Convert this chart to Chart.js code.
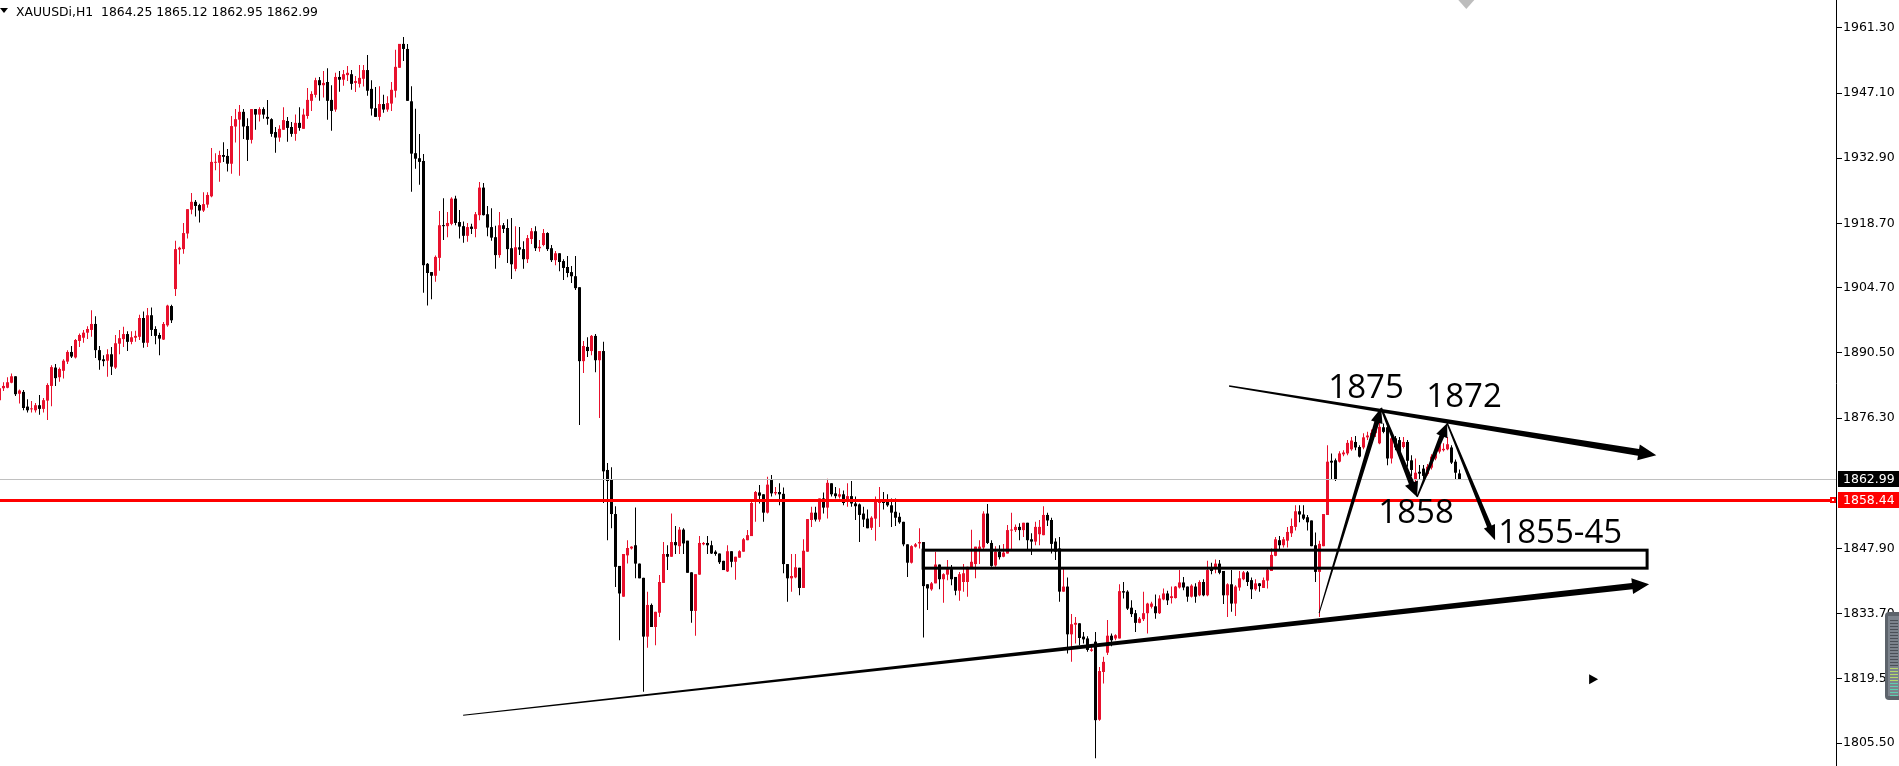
<!DOCTYPE html>
<html lang="en">
<head>
<meta charset="UTF-8" />
<title>XAUUSDi,H1</title>
<script src="https://cdn.jsdelivr.net/npm/chart.js@4"></script>
<style>
  html, body { margin: 0; padding: 0; background: #fff; overflow: hidden; }
  #wrap { position: relative; width: 1899px; height: 766px; }
</style>
</head>
<body>
<div id="wrap"><canvas id="chart"></canvas></div>
<script>
// H1 candles, oldest first
const opens = [
  1880.2,1882.8,1882.9,1884.0,1885.4,1881.6,1882.0,1878.8,1878.2,1878.0,
  1879.1,1878.3,1880.1,1883.3,1887.3,1885.2,1886.6,1888.6,1890.7,1889.5,
  1893.1,1893.8,1894.9,1895.5,1896.8,1891.1,1889.1,1888.8,1890.2,1887.3,
  1892.5,1893.5,1894.6,1892.9,1893.8,1894.0,1898.1,1892.7,1898.7,1895.7,
  1894.4,1893.4,1896.5,1900.7,1904.4,1913.0,1913.1,1916.5,1921.7,1923.4,
  1922.7,1921.5,1922.8,1924.6,1931.9,1931.9,1933.6,1933.4,1931.7,1939.8,
  1941.3,1943.0,1939.9,1936.9,1943.6,1942.4,1943.6,1941.9,1941.4,1938.6,
  1937.4,1939.1,1941.0,1939.7,1938.2,1940.6,1939.3,1942.1,1945.4,1946.7,
  1949.9,1948.8,1949.5,1945.6,1943.5,1950.6,1950.0,1951.0,1951.2,1949.3,
  1949.1,1950.2,1952.1,1948.0,1943.8,1941.9,1944.7,1943.5,1944.8,1947.6,
  1952.6,1957.8,1956.7,1945.3,1934.0,1932.9,1932.3,1909.9,1908.1,1907.3,
  1911.2,1918.3,1918.1,1918.6,1924.1,1919.0,1918.1,1916.0,1918.0,1917.5,
  1920.5,1926.5,1920.7,1917.9,1915.7,1911.8,1918.3,1917.7,1913.3,1908.8,
  1913.5,1913.1,1910.9,1915.3,1917.0,1913.3,1914.0,1916.6,1913.3,1910.7,
  1912.2,1910.5,1909.2,1908.1,1907.2,1904.8,1888.7,1891.8,1890.9,1894.2,
  1888.9,1890.9,1865.0,1863.0,1855.4,1844.1,1837.4,1846.4,1847.9,1848.6,
  1844.6,1841.5,1828.7,1835.6,1830.8,1833.9,1840.4,1846.7,1846.1,1849.3,
  1848.4,1852.0,1849.6,1842.7,1834.3,1842.2,1848.8,1849.1,1848.6,1847.2,
  1846.8,1845.2,1842.9,1847.3,1845.0,1845.9,1847.2,1849.7,1850.6,1858.1,
  1860.1,1859.7,1855.7,1862.8,1859.9,1860.2,1859.8,1844.5,1841.4,1841.6,
  1843.7,1839.3,1847.2,1854.1,1855.7,1854.2,1858.8,1856.8,1862.1,1859.9,
  1859.2,1859.7,1858.1,1859.3,1857.7,1857.5,1855.5,1854.4,1852.4,1854.4,
  1857.8,1858.4,1858.1,1857.3,1855.9,1854.8,1853.7,1848.8,1844.8,1848.3,
  1849.0,1849.3,1840.1,1839.0,1840.3,1844.4,1841.2,1842.2,1843.4,1841.7,
  1838.7,1840.6,1840.6,1843.8,1844.5,1847.8,1848.1,1855.5,1849.1,1844.2,
  1847.2,1846.1,1846.8,1851.8,1851.9,1852.6,1851.9,1853.5,1849.9,1849.4,
  1851.0,1850.8,1855.2,1854.1,1849.4,1847.9,1838.5,1839.6,1829.2,1831.3,
  1831.6,1828.7,1828.3,1825.6,1827.6,1810.6,1821.0,1825.2,1828.9,1828.3,
  1828.3,1838.6,1838.5,1835.0,1833.8,1831.7,1832.5,1833.8,1835.2,1835.3,
  1833.8,1836.8,1838.1,1837.1,1837.1,1839.4,1840.5,1839.6,1837.4,1839.6,
  1837.7,1840.6,1837.7,1843.5,1843.5,1844.6,1843.0,1837.7,1840.1,1835.9,
  1839.4,1841.2,1842.7,1841.0,1839.0,1840.3,1839.3,1840.9,1843.0,1846.3,
  1849.7,1848.6,1849.6,1851.2,1852.6,1856.0,1855.3,1854.7,1854.0,1848.6,
  1842.8,1848.4,1855.2,1867.0,1867.1,1866.8,1868.4,1868.6,1869.5,1871.1,
  1870.0,1869.9,1872.1,1871.6,1873.0,1870.8,1874.3,1874.3,1867.5,1871.9,
  1871.5,1870.0,1871.1,1867.1,1862.8,1864.6,1865.3,1864.1,1865.5,1867.5,
  1869.0,1869.3,1869.5,1869.9,1866.8,1864.25
];
const highs = [
  1883.1,1884.1,1885.2,1886.0,1885.4,1882.5,1882.4,1880.4,1880.0,1879.6,
  1881.3,1880.7,1883.9,1887.8,1888.1,1887.3,1889.1,1891.1,1892.0,1893.5,
  1894.7,1895.5,1896.3,1899.8,1898.5,1892.0,1890.0,1891.3,1891.8,1894.4,
  1895.5,1896.2,1895.2,1895.2,1895.3,1898.8,1899.5,1900.3,1900.4,1896.3,
  1894.9,1897.2,1901.0,1901.0,1914.9,1913.6,1918.8,1921.8,1925.3,1923.8,
  1923.0,1925.5,1925.5,1935.1,1934.0,1934.5,1936.4,1934.9,1942.1,1943.6,
  1944.5,1943.6,1941.6,1943.6,1943.6,1944.0,1944.0,1945.6,1941.6,1939.7,
  1940.1,1944.0,1941.9,1940.8,1942.4,1944.0,1943.7,1948.2,1947.5,1950.4,
  1950.6,1951.9,1952.5,1948.8,1951.5,1951.9,1952.1,1953.0,1952.1,1950.8,
  1953.2,1953.2,1955.4,1949.9,1948.4,1948.6,1946.7,1946.4,1949.5,1956.5,
  1957.8,1959.3,1957.8,1948.6,1943.7,1938.2,1933.8,1910.1,1908.1,1911.7,
  1921.4,1924.2,1921.2,1924.4,1924.7,1921.6,1919.1,1918.8,1918.6,1921.2,
  1927.7,1927.5,1922.5,1922.0,1918.2,1921.2,1918.8,1919.6,1919.9,1918.1,
  1917.9,1914.8,1916.2,1917.7,1918.1,1915.1,1917.5,1916.8,1914.0,1912.7,
  1912.2,1910.9,1911.6,1909.4,1911.6,1904.8,1893.1,1893.9,1894.4,1894.6,
  1890.9,1892.9,1866.5,1865.6,1857.1,1844.1,1846.7,1849.7,1848.4,1856.8,
  1844.6,1841.5,1838.5,1835.9,1834.1,1842.1,1849.3,1848.6,1855.5,1852.8,
  1852.6,1852.3,1849.6,1842.7,1842.3,1850.6,1849.3,1850.6,1849.6,1847.5,
  1846.8,1845.2,1848.6,1847.3,1846.1,1847.5,1850.2,1851.9,1858.4,1860.4,
  1861.7,1859.7,1863.5,1863.9,1861.3,1862.1,1861.2,1844.5,1846.7,1846.7,
  1843.7,1849.9,1854.3,1857.0,1857.0,1858.8,1860.1,1863.1,1862.1,1861.3,
  1861.0,1860.5,1862.1,1862.6,1859.2,1857.7,1857.0,1856.4,1854.9,1859.2,
  1861.3,1860.2,1859.7,1858.8,1858.8,1855.7,1853.7,1848.8,1848.6,1849.1,
  1852.3,1849.3,1840.1,1840.6,1847.2,1844.4,1842.5,1845.4,1844.3,1841.7,
  1842.8,1844.5,1843.9,1852.0,1848.3,1849.7,1856.0,1857.6,1849.7,1848.4,
  1848.6,1848.9,1853.0,1855.7,1853.1,1853.4,1853.5,1853.5,1851.2,1853.7,
  1854.1,1857.1,1855.7,1854.6,1850.1,1850.4,1843.7,1841.6,1833.6,1833.0,
  1831.6,1829.7,1828.8,1826.5,1829.7,1822.1,1824.3,1832.3,1829.4,1829.2,
  1840.1,1840.6,1838.8,1836.6,1834.5,1833.0,1838.5,1836.1,1836.3,1837.9,
  1837.7,1839.2,1838.7,1839.6,1839.7,1843.2,1841.7,1839.6,1840.1,1840.3,
  1841.0,1841.2,1845.2,1844.8,1845.5,1845.4,1843.0,1840.3,1843.2,1839.9,
  1843.0,1843.0,1843.0,1841.6,1841.2,1840.4,1841.6,1843.5,1847.9,1850.4,
  1850.6,1850.4,1852.6,1854.4,1857.3,1857.3,1857.3,1855.2,1854.0,1851.4,
  1849.6,1855.4,1870.4,1868.6,1867.5,1869.1,1869.3,1871.5,1872.2,1872.4,
  1870.4,1873.0,1873.3,1873.8,1875.1,1875.3,1875.1,1875.1,1872.2,1872.4,
  1872.2,1872.2,1871.5,1868.2,1867.5,1866.1,1866.1,1866.3,1868.4,1869.7,
  1871.5,1870.8,1872.2,1870.4,1867.3,1865.12
];
const lows = [
  1879.6,1882.2,1882.8,1883.9,1881.1,1879.5,1878.0,1877.5,1877.5,1877.5,
  1877.0,1877.5,1875.9,1878.9,1883.3,1884.2,1884.9,1888.1,1889.4,1889.3,
  1891.8,1892.7,1893.5,1894.0,1889.4,1886.8,1887.6,1885.3,1885.7,1887.0,
  1890.2,1891.8,1890.9,1892.4,1892.9,1893.3,1891.6,1891.8,1894.2,1892.4,
  1890.0,1893.3,1896.2,1897.0,1902.9,1909.8,1912.1,1915.4,1920.7,1920.2,
  1918.9,1921.2,1922.1,1924.4,1930.3,1927.8,1932.1,1930.0,1929.5,1936.3,
  1929.1,1937.1,1932.3,1936.1,1939.1,1940.9,1941.5,1940.2,1937.6,1934.1,
  1936.5,1939.1,1936.5,1937.6,1936.7,1938.9,1939.3,1941.5,1943.2,1946.1,
  1945.4,1946.1,1941.3,1938.9,1943.0,1947.4,1948.7,1949.7,1947.8,1947.3,
  1948.3,1948.5,1946.5,1942.2,1941.9,1941.1,1942.8,1943.0,1943.2,1946.1,
  1952.6,1954.1,1945.4,1925.6,1930.6,1927.1,1903.6,1900.8,1902.2,1906.0,
  1908.4,1915.1,1915.7,1918.3,1918.3,1915.4,1914.5,1914.7,1916.4,1915.7,
  1919.4,1920.4,1915.9,1914.9,1908.8,1911.2,1916.6,1910.1,1906.6,1908.3,
  1911.8,1908.8,1910.1,1914.2,1912.7,1912.5,1913.7,1912.7,1910.3,1909.6,
  1908.3,1906.4,1907.0,1905.7,1904.2,1874.8,1886.1,1889.6,1890.0,1886.3,
  1876.3,1857.8,1849.7,1852.3,1839.5,1827.9,1837.4,1844.6,1847.7,1841.4,
  1841.4,1816.7,1826.3,1830.8,1826.8,1833.0,1840.4,1843.2,1846.1,1846.7,
  1846.7,1846.7,1842.6,1831.7,1828.9,1842.2,1848.6,1846.7,1846.7,1846.3,
  1844.5,1843.2,1842.8,1843.8,1841.1,1845.9,1847.2,1849.7,1850.6,1853.7,
  1857.7,1853.7,1855.5,1859.2,1859.5,1857.3,1842.5,1836.3,1838.5,1841.4,
  1837.7,1839.3,1847.2,1852.6,1853.8,1853.7,1855.5,1854.4,1859.2,1858.8,
  1858.8,1857.3,1857.0,1857.0,1854.1,1849.3,1852.6,1852.3,1851.9,1849.6,
  1852.6,1856.4,1857.0,1852.6,1852.8,1853.3,1848.4,1841.7,1844.6,1848.1,
  1847.9,1828.5,1834.5,1838.7,1840.3,1839.0,1836.1,1841.0,1839.9,1837.7,
  1836.5,1838.5,1837.4,1843.6,1841.4,1844.5,1847.8,1848.9,1843.9,1843.9,
  1845.5,1846.0,1846.8,1847.7,1851.5,1849.7,1850.4,1847.5,1846.5,1848.6,
  1848.6,1850.8,1852.8,1846.8,1845.4,1836.3,1838.5,1825.0,1823.2,1827.2,
  1826.8,1827.2,1825.4,1825.4,1802.2,1810.4,1818.5,1824.7,1826.6,1827.9,
  1828.3,1837.0,1834.5,1833.0,1829.7,1831.6,1832.1,1829.4,1834.8,1832.6,
  1833.6,1836.6,1835.6,1835.9,1837.0,1839.2,1838.8,1836.3,1837.2,1836.1,
  1837.5,1837.5,1837.5,1842.3,1842.5,1842.3,1835.8,1833.0,1834.1,1833.2,
  1838.7,1841.0,1839.7,1836.9,1838.7,1838.5,1839.3,1839.2,1843.0,1846.2,
  1847.7,1848.1,1848.1,1850.4,1851.8,1853.6,1854.1,1851.8,1848.4,1840.6,
  1833.0,1848.4,1855.2,1862.9,1862.6,1866.6,1868.0,1868.2,1869.2,1869.3,
  1867.7,1869.5,1871.5,1870.8,1872.2,1870.6,1873.0,1866.0,1866.4,1869.3,
  1867.9,1869.7,1865.7,1863.7,1862.4,1862.8,1862.9,1863.8,1865.1,1867.1,
  1868.6,1869.0,1869.3,1866.3,1862.9,1862.95
];
const closes = [
  1882.8,1883.3,1884.1,1885.4,1881.5,1882.3,1878.5,1878.0,1878.4,1879.1,
  1878.3,1880.2,1883.5,1887.4,1885.0,1887.0,1888.8,1890.7,1889.7,1893.3,
  1894.4,1894.9,1895.7,1896.8,1891.1,1888.9,1888.7,1890.2,1887.5,1892.6,
  1893.7,1894.6,1892.9,1893.9,1894.2,1898.1,1892.7,1898.7,1895.5,1894.2,
  1893.6,1896.8,1900.8,1897.6,1913.1,1913.4,1916.6,1921.8,1923.4,1922.5,
  1921.5,1922.9,1924.9,1932.1,1932.1,1933.6,1933.2,1931.7,1939.9,1941.4,
  1943.0,1939.8,1936.9,1943.6,1942.4,1943.6,1942.4,1941.5,1938.2,1937.4,
  1939.3,1941.2,1939.5,1938.2,1940.6,1939.5,1942.4,1945.6,1946.9,1949.9,
  1948.8,1949.3,1945.4,1943.2,1950.6,1950.0,1951.2,1951.5,1949.1,1949.7,
  1950.4,1952.1,1947.6,1943.7,1941.9,1944.7,1943.5,1944.9,1947.8,1952.8,
  1957.8,1956.7,1945.4,1933.9,1932.8,1932.1,1909.6,1907.9,1907.3,1911.4,
  1918.3,1918.1,1918.8,1924.1,1918.8,1918.0,1916.0,1917.9,1917.5,1920.7,
  1926.5,1920.5,1917.8,1915.6,1911.8,1918.3,1917.5,1913.1,1909.8,1913.5,
  1913.0,1910.9,1915.5,1917.0,1913.3,1913.6,1916.6,1913.1,1910.7,1912.2,
  1910.3,1909.0,1907.9,1907.2,1904.6,1888.7,1892.0,1890.9,1894.2,1888.9,
  1890.9,1864.7,1862.6,1855.4,1843.9,1838.1,1846.7,1848.0,1848.3,1844.6,
  1841.4,1828.7,1835.6,1830.8,1834.1,1840.6,1846.7,1846.1,1849.3,1848.6,
  1852.0,1849.0,1842.6,1834.3,1842.3,1849.1,1849.1,1848.6,1846.8,1846.7,
  1844.9,1843.2,1847.3,1845.0,1846.1,1847.3,1849.9,1850.8,1857.8,1860.2,
  1859.4,1855.7,1861.8,1859.9,1860.2,1859.7,1844.5,1841.4,1841.9,1843.8,
  1839.3,1847.4,1854.3,1855.7,1854.2,1858.8,1856.8,1862.2,1859.7,1859.3,
  1859.7,1857.8,1859.3,1857.7,1857.1,1855.2,1854.2,1852.3,1854.6,1858.1,
  1858.6,1857.8,1857.3,1855.7,1854.6,1853.6,1848.8,1844.8,1848.4,1848.8,
  1849.3,1839.7,1839.2,1840.3,1844.4,1841.2,1842.3,1843.4,1841.2,1838.7,
  1842.3,1842.5,1843.9,1845.0,1848.3,1848.3,1855.5,1849.1,1844.1,1847.2,
  1846.0,1847.0,1851.9,1852.0,1852.6,1851.9,1853.5,1849.7,1849.4,1852.6,
  1852.6,1855.2,1854.0,1848.9,1847.2,1838.5,1839.6,1829.2,1831.4,1831.7,
  1828.4,1828.1,1825.8,1825.9,1810.5,1821.2,1823.2,1828.9,1827.9,1829.0,
  1838.6,1838.3,1834.8,1833.6,1831.7,1832.6,1833.8,1835.9,1835.9,1833.8,
  1837.0,1838.1,1836.6,1837.5,1839.6,1840.5,1839.4,1837.4,1839.8,1837.4,
  1840.6,1837.7,1843.2,1843.0,1844.6,1842.6,1837.7,1840.1,1835.9,1839.6,
  1841.4,1842.7,1840.6,1839.0,1840.3,1839.7,1841.0,1843.2,1846.5,1849.9,
  1848.6,1849.9,1851.5,1852.8,1856.0,1855.3,1854.4,1853.6,1848.4,1842.8,
  1848.9,1855.4,1866.8,1866.6,1862.9,1868.6,1868.8,1870.9,1871.4,1869.9,
  1867.9,1872.1,1872.5,1873.1,1874.4,1874.4,1873.3,1867.5,1871.9,1869.9,
  1868.2,1871.1,1867.0,1865.0,1864.4,1864.2,1863.7,1865.7,1867.9,1869.0,
  1870.4,1869.6,1870.6,1866.6,1864.4,1862.99
];

// price axis labels
const priceTicks = [1961.30, 1947.10, 1932.90, 1918.70, 1904.70, 1890.50, 1876.30, 1847.90, 1833.70, 1819.50, 1805.50];
const bidPrice = 1862.99;
const levelPrice = 1858.44;
const header = ['XAUUSDi,H1', 1864.25, 1865.12, 1862.95, 1862.99];

// hand drawn marks, in [bar index, price]
const arrows = [
  { from: [115.9, 1811.6], to: [412.4, 1840.1], w0: 1, w1: 6.5, head: 17, half: 8 },
  { from: [307.4, 1883.3], to: [414.2, 1868.2], w0: 1.5, w1: 7, head: 18, half: 8 },
  { from: [329.9, 1833.8], to: [345.4, 1878.5], w0: 1, w1: 5, head: 15, half: 6 },
  { from: [345.4, 1878.5], to: [354.4, 1859.1], w0: 2, w1: 5.5, head: 15, half: 7 },
  { from: [354.4, 1859.1], to: [361.9, 1875.2], w0: 1.5, w1: 5, head: 14, half: 6 },
  { from: [361.9, 1875.2], to: [373.9, 1849.7], w0: 1.5, w1: 5, head: 15, half: 6 }
];
const zone = { from: 230.9, to: 411.9, top: 1847.53, bottom: 1843.61 };
const notes = [
  { text: '1875', at: [332.2, 1880.6] },
  { text: '1872', at: [356.7, 1878.7] },
  { text: '1858', at: [344.7, 1853.4] },
  { text: '1855-45', at: [374.7, 1849.1] }
];
const endMarker = [398.4, 1819.4];
const shiftMarker = 366.7;

const UP = '#e8112d';
const DOWN = '#000000';

const idx = opens.map((_, i) => i);
const colors = idx.map(i => closes[i] >= opens[i] ? UP : DOWN);

function drawArrow(ctx, a, b, s) {
  const dx = b[0] - a[0], dy = b[1] - a[1];
  const len = Math.hypot(dx, dy);
  const ux = dx / len, uy = dy / len, nx = -uy, ny = ux;
  const bx = b[0] - ux * s.head, by = b[1] - uy * s.head;
  ctx.beginPath();
  ctx.moveTo(a[0] + nx * s.w0 / 2, a[1] + ny * s.w0 / 2);
  ctx.lineTo(bx + nx * s.w1 / 2, by + ny * s.w1 / 2);
  ctx.lineTo(bx + nx * s.half, by + ny * s.half);
  ctx.lineTo(b[0], b[1]);
  ctx.lineTo(bx - nx * s.half, by - ny * s.half);
  ctx.lineTo(bx - nx * s.w1 / 2, by - ny * s.w1 / 2);
  ctx.lineTo(a[0] - nx * s.w0 / 2, a[1] - ny * s.w0 / 2);
  ctx.closePath();
  ctx.fill();
}

const overlay = {
  id: 'overlay',
  afterDatasetsDraw(chart) {
    const { ctx, chartArea: area } = chart;
    const x = chart.scales.x, y = chart.scales.y;
    const pt = p => [x.getPixelForValue(p[0]), y.getPixelForValue(p[1])];
    ctx.save();

    // bid line
    const by = Math.round(y.getPixelForValue(bidPrice)) + 0.5;
    ctx.strokeStyle = '#c0c0c0';
    ctx.lineWidth = 1;
    ctx.beginPath(); ctx.moveTo(area.left, by); ctx.lineTo(area.right, by); ctx.stroke();

    // level line
    const ly = Math.round(y.getPixelForValue(levelPrice)) + 0.5;
    ctx.strokeStyle = '#ff0000';
    ctx.lineWidth = 3;
    ctx.beginPath(); ctx.moveTo(area.left, ly); ctx.lineTo(area.right, ly); ctx.stroke();
    ctx.fillStyle = '#ff0000';
    ctx.fillRect(area.right - 6, ly - 3.5, 6, 6);
    ctx.fillStyle = '#fff';
    ctx.fillRect(area.right - 4, ly - 1.5, 2, 2);

    // zone box
    const z0 = pt([zone.from, zone.top]), z1 = pt([zone.to, zone.bottom]);
    ctx.strokeStyle = '#000';
    ctx.lineWidth = 3;
    ctx.strokeRect(z0[0], z0[1], z1[0] - z0[0], z1[1] - z0[1]);

    // arrows
    ctx.fillStyle = '#000';
    arrows.forEach(a => drawArrow(ctx, pt(a.from), pt(a.to), a));

    // notes
    ctx.font = '33px "Open Sans", "Noto Sans", sans-serif';
    ctx.textAlign = 'left';
    ctx.textBaseline = 'alphabetic';
    notes.forEach(n => {
      const p = pt(n.at);
      ctx.fillText(n.text, p[0], p[1]);
    });

    // small end marker
    const e = pt(endMarker);
    ctx.beginPath();
    ctx.moveTo(e[0] - 4, e[1] - 5); ctx.lineTo(e[0] + 5, e[1]); ctx.lineTo(e[0] - 4, e[1] + 5);
    ctx.closePath(); ctx.fill();

    // chart shift marker
    const sx = x.getPixelForValue(shiftMarker);
    ctx.fillStyle = '#bdbdbd';
    ctx.beginPath();
    ctx.moveTo(sx - 8, area.top); ctx.lineTo(sx + 8, area.top); ctx.lineTo(sx, area.top + 9);
    ctx.closePath(); ctx.fill();

    ctx.restore();
  },
  afterDraw(chart) {
    const { ctx, chartArea: area } = chart;
    const y = chart.scales.y;
    ctx.save();

    // header
    ctx.fillStyle = '#000';
    ctx.beginPath();
    ctx.moveTo(0, 8); ctx.lineTo(8, 8); ctx.lineTo(4, 13); ctx.closePath(); ctx.fill();
    ctx.font = '13px "DejaVu Sans", sans-serif';
    ctx.textBaseline = 'alphabetic';
    ctx.textAlign = 'left';
    ctx.fillText(header[0] + '  ' + header.slice(1).map(v => v.toFixed(2)).join(' '), 16, 16, 302);

    // price tags on the axis
    ctx.font = '12.5px "DejaVu Sans", sans-serif';
    const tag = (price, bg) => {
      const py = Math.round(y.getPixelForValue(price));
      ctx.fillStyle = bg;
      ctx.fillRect(area.right + 2, py - 8, 1899 - area.right - 2, 16);
      ctx.fillStyle = '#fff';
      ctx.textBaseline = 'middle';
      ctx.fillText(price.toFixed(2), area.right + 7, py + 1);
    };
    tag(bidPrice, '#000');
    tag(levelPrice, '#ff0000');

    // scroll widget at the right edge
    const wx = 1885, wy = 612, ww = 20, wh = 88;
    ctx.fillStyle = '#5d636b';
    ctx.beginPath();
    ctx.roundRect(wx, wy, ww, wh, 4);
    ctx.fill();
    ctx.fillStyle = '#7c838c';
    ctx.fillRect(wx + 3, wy + 4, 12, wh - 8);
    for (let k = 0; k < 26; k++) {
      const yy = wy + 8 + k * 3;
      ctx.fillStyle = k < 16 ? '#4a4f56' : (k < 21 ? '#b6d96a' : '#5fcfb0');
      ctx.fillRect(wx + 5, yy, 8, 1);
    }
    ctx.restore();
  }
};

new Chart(document.getElementById('chart'), {
  type: 'bar',
  data: {
    datasets: [
      {
        label: 'wicks',
        data: idx.map(i => ({ x: i, y: [lows[i], highs[i]] })),
        backgroundColor: colors,
        borderWidth: 0,
        barThickness: 1,
        inflateAmount: 0,
        grouped: false,
        order: 2
      },
      {
        label: 'bodies',
        data: idx.map(i => ({ x: i, y: [opens[i], closes[i]] })),
        backgroundColor: colors,
        borderWidth: 0,
        barThickness: 3,
        minBarLength: 1,
        inflateAmount: 0,
        grouped: false,
        order: 1
      }
    ]
  },
  options: {
    responsive: true,
    maintainAspectRatio: false,
    animation: false,
    devicePixelRatio: 1,
    layout: { padding: 0 },
    plugins: { legend: { display: false }, tooltip: { enabled: false } },
    scales: {
      x: { type: 'linear', min: 0.125, max: 459.125, offset: false, display: false },
      y: {
        position: 'right',
        min: 1800.52,
        max: 1967.36,
        afterBuildTicks: s => { s.ticks = priceTicks.map(v => ({ value: v })); },
        afterFit: s => { s.width = 63; s.paddingTop = 0; s.paddingBottom = 0; },
        ticks: {
          autoSkip: false,
          padding: 1,
          color: '#000',
          font: { family: 'DejaVu Sans', size: 12.5 },
          callback: v => Number(v).toFixed(2)
        },
        grid: { drawOnChartArea: false, drawTicks: true, tickLength: 6, color: '#000', lineWidth: 1 },
        border: { display: true, color: '#000', width: 1 }
      }
    }
  },
  plugins: [overlay]
});
</script>
</body>
</html>
